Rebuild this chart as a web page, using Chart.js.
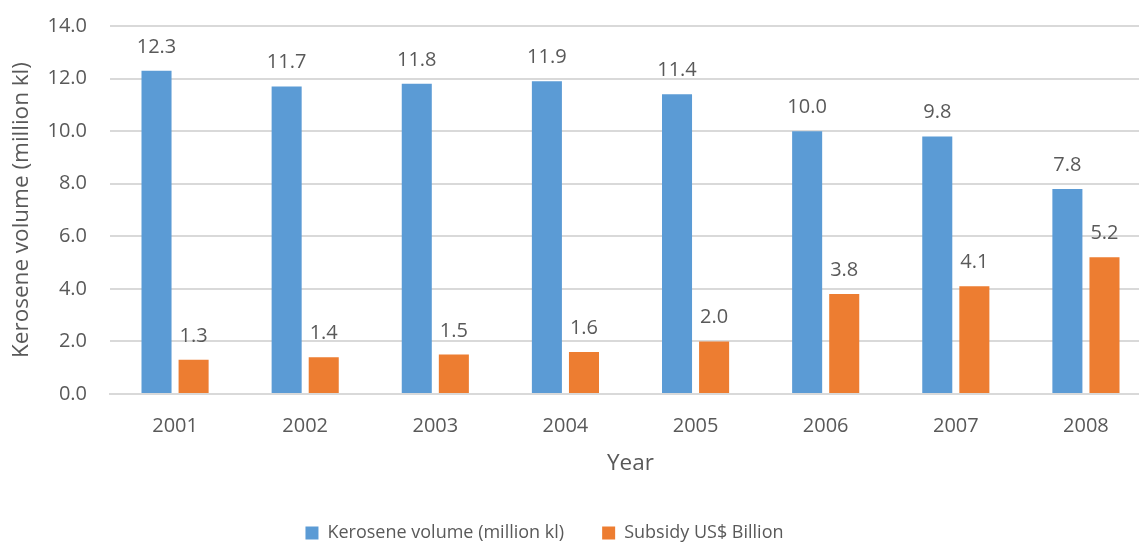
<!DOCTYPE html>
<html>
<head>
<meta charset="utf-8">
<script src="https://cdn.jsdelivr.net/npm/chart.js@4"></script>
<style>
    html, body { margin: 0; padding: 0; background: #fff; overflow: hidden; }
    #wrap { width: 1160px; height: 545px; }
</style>
</head>
<body>
<div id="wrap"><canvas id="chartKerosene"></canvas></div>
<script>
    const years = ['2001', '2002', '2003', '2004', '2005', '2006', '2007', '2008'];
    const keroseneVolume = [12.3, 11.7, 11.8, 11.9, 11.4, 10.0, 9.8, 7.8];
    const subsidy = [1.3, 1.4, 1.5, 1.6, 2.0, 3.8, 4.1, 5.2];
    const seriesNames = ['Kerosene volume (million kl)', 'Subsidy US$ Billion'];

    const textColor = '#595959';
    const gridColor = '#d9d9d9';
    const fontFamily = '"Open Sans", sans-serif';
    const plotTop = 26;

    // valores em cima das barras
    const valueLabels = {
        id: 'valueLabels',
        afterDatasetsDraw(chart) {
            const ctx = chart.ctx;
            ctx.save();
            ctx.font = `20px ${fontFamily}`;
            ctx.fillStyle = textColor;
            ctx.textAlign = 'center';
            ctx.textBaseline = 'alphabetic';
            chart.data.datasets.forEach((ds, i) => {
                chart.getDatasetMeta(i).data.forEach((bar, j) => {
                    ctx.fillText(ds.data[j].toFixed(1), bar.x, bar.y - 18);
                });
            });
            ctx.restore();
        }
    };

    // ajustes finos de layout: topo da área do gráfico e legenda mais à esquerda
    const layoutTweaks = {
        id: 'layoutTweaks',
        afterLayout(chart) {
            const area = chart.chartArea;
            area.top = plotTop;
            area.height = area.bottom - area.top;
            const y = chart.scales.y;
            y.top = plotTop;
            y.height = y.bottom - y.top;
            y.configure();
            if (chart.legend) {
                chart.legend.left -= 35;
                chart.legend.right -= 35;
            }
        }
    };

    const ctx = document.getElementById('chartKerosene').getContext('2d');
    new Chart(ctx, {
        type: 'bar',
        data: {
            labels: years,
            datasets: [{
                label: seriesNames[0],
                data: keroseneVolume,
                backgroundColor: '#5B9BD5',
            }, {
                label: seriesNames[1],
                data: subsidy,
                backgroundColor: '#ED7D31',
            }]
        },
        options: {
            responsive: true,
            maintainAspectRatio: false,
            animation: false,
            categoryPercentage: 0.57,
            barPercentage: 0.81,
            layout: { autoPadding: false, padding: { top: 14, left: 8, right: 9, bottom: -7 } },
            plugins: {
                legend: {
                    position: 'bottom',
                    labels: {
                        color: textColor,
                        font: { family: fontFamily, size: 18 },
                        boxWidth: 13,
                        boxHeight: 13,
                        padding: 38
                    }
                },
                tooltip: { enabled: false },
                title: { display: false }
            },
            scales: {
                x: {
                    grid: { display: false },
                    border: { color: gridColor, width: 2 },
                    ticks: { color: textColor, font: { family: fontFamily, size: 20 }, padding: 12 },
                    title: {
                        display: true,
                        text: 'Year',
                        color: textColor,
                        font: { family: fontFamily, size: 22.5 },
                        padding: { top: 0, bottom: 9 }
                    }
                },
                y: {
                    min: 0,
                    max: 14,
                    afterFit: scale => { scale.width = 102; },
                    grid: { color: gridColor, lineWidth: 2, drawTicks: false },
                    border: { display: false },
                    ticks: {
                        stepSize: 2,
                        color: textColor,
                        font: { family: fontFamily, size: 20 },
                        padding: 23,
                        callback: v => v.toFixed(1)
                    },
                    title: {
                        display: true,
                        text: seriesNames[0],
                        color: textColor,
                        font: { family: fontFamily, size: 22.5 },
                        padding: { top: 0, bottom: 4 }
                    }
                }
            }
        },
        plugins: [valueLabels, layoutTweaks]
    });
</script>
</body>
</html>
